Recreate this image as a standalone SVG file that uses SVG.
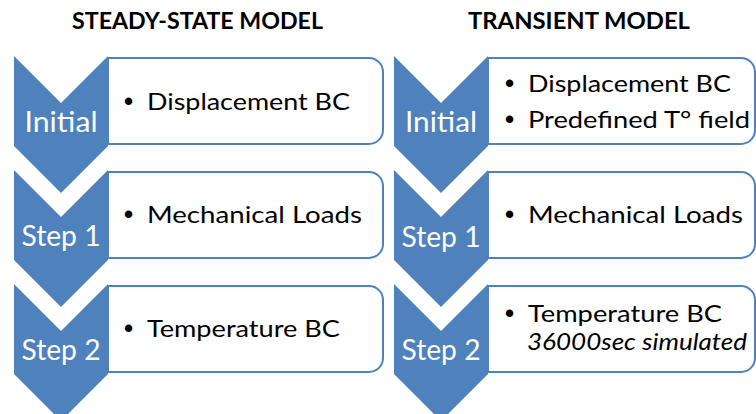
<svg xmlns="http://www.w3.org/2000/svg" width="756" height="414" viewBox="0 0 756 414">
<style>
.title{font-family:Lato,"Open Sans","Liberation Sans",sans-serif;font-weight:bold;font-size:22px;fill:#000}
.chev{fill:#4f81bd}
.box{fill:#fff;stroke:#4f81bd;stroke-width:2}
.lbl{font-family:Lato,"Open Sans","Liberation Sans",sans-serif;font-size:28px;fill:#fff;text-anchor:middle}
.txt{font-family:Lato,"Open Sans","Liberation Sans",sans-serif;font-size:24px;fill:#000}
.tsm{font-size:23px}
.bul{font-family:"Liberation Sans",sans-serif;font-size:26px;fill:#000;font-weight:bold}
.it{font-style:italic}
</style>
<rect width="756" height="414" fill="#fff"/>
<text class="title" x="72" y="29" textLength="251" lengthAdjust="spacingAndGlyphs">STEADY-STATE MODEL</text>
<text class="title" x="468" y="29" textLength="222" lengthAdjust="spacingAndGlyphs">TRANSIENT MODEL</text>

<g id="ss-initial">
<path class="box" d="M108,58 H369 A14,14 0 0 1 383,72 V130 A14,14 0 0 1 369,144 H108 Z"/>
<path class="chev" d="M14,56 L61,103 L108,56 V146 L61,193 L14,146 Z"/>
<text class="lbl" x="61" y="132" textLength="73" lengthAdjust="spacingAndGlyphs">Initial</text>
<text class="bul" x="124" y="110">•</text>
<text class="txt" x="147" y="110" textLength="203" lengthAdjust="spacingAndGlyphs">Displacement BC</text>
</g>
<g id="ss-step1">
<path class="box" d="M108,172 H369 A14,14 0 0 1 383,186 V244 A14,14 0 0 1 369,258 H108 Z"/>
<path class="chev" d="M14,170 L61,217 L108,170 V260 L61,307 L14,260 Z"/>
<text class="lbl" x="61" y="246" textLength="79" lengthAdjust="spacingAndGlyphs">Step 1</text>
<text class="bul" x="124" y="223">•</text>
<text class="txt" x="147" y="223" textLength="215" lengthAdjust="spacingAndGlyphs">Mechanical Loads</text>
</g>
<g id="ss-step2">
<path class="box" d="M108,286 H369 A14,14 0 0 1 383,300 V358 A14,14 0 0 1 369,372 H108 Z"/>
<path class="chev" d="M14,284 L61,331 L108,284 V374 L61,421 L14,374 Z"/>
<text class="lbl" x="61" y="360" textLength="79" lengthAdjust="spacingAndGlyphs">Step 2</text>
<text class="bul" x="124" y="337">•</text>
<text class="txt" x="147" y="337" textLength="193" lengthAdjust="spacingAndGlyphs">Temperature BC</text>
</g>

<g id="tr-initial">
<path class="box" d="M488,58 H741 A14,14 0 0 1 755,72 V130 A14,14 0 0 1 741,144 H488 Z"/>
<path class="chev" d="M394,56 L441,103 L488,56 V146 L441,193 L394,146 Z"/>
<text class="lbl" x="441" y="132" textLength="72" lengthAdjust="spacingAndGlyphs">Initial</text>
<text class="bul" x="505" y="92">•</text>
<text class="txt" x="528" y="92" textLength="203" lengthAdjust="spacingAndGlyphs">Displacement BC</text>
<text class="bul" x="505" y="128">•</text>
<text class="txt" x="528" y="128" textLength="222" lengthAdjust="spacingAndGlyphs">Predefined T° field</text>
</g>
<g id="tr-step1">
<path class="box" d="M488,172 H741 A14,14 0 0 1 755,186 V244 A14,14 0 0 1 741,258 H488 Z"/>
<path class="chev" d="M394,170 L441,217 L488,170 V260 L441,307 L394,260 Z"/>
<text class="lbl" x="441" y="247" textLength="79" lengthAdjust="spacingAndGlyphs">Step 1</text>
<text class="bul" x="505" y="223">•</text>
<text class="txt" x="528" y="223" textLength="215" lengthAdjust="spacingAndGlyphs">Mechanical Loads</text>
</g>
<g id="tr-step2">
<path class="box" d="M488,286 H741 A14,14 0 0 1 755,300 V358 A14,14 0 0 1 741,372 H488 Z"/>
<path class="chev" d="M394,284 L441,331 L488,284 V374 L441,421 L394,374 Z"/>
<text class="lbl" x="441" y="360" textLength="79" lengthAdjust="spacingAndGlyphs">Step 2</text>
<text class="bul" x="505" y="322">•</text>
<text class="txt tsm" x="528" y="322" textLength="194" lengthAdjust="spacingAndGlyphs">Temperature BC</text>
<text class="txt tsm it" x="527" y="350" textLength="220" lengthAdjust="spacingAndGlyphs">36000sec simulated</text>
</g>
<g id="connectors"/>
</svg>
